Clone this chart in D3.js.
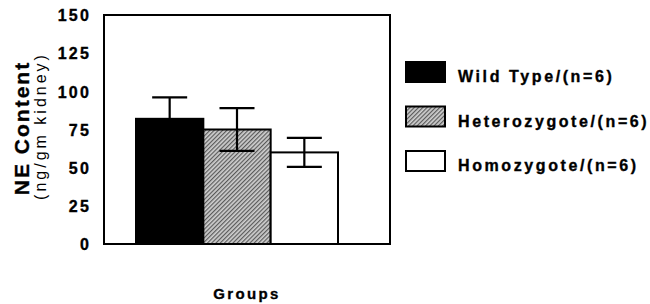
<!DOCTYPE html>
<html>
<head>
<meta charset="utf-8">
<script src="https://cdn.jsdelivr.net/npm/d3@7"></script>
<style>
body { margin: 0; background: #fff; }
svg { display: block; font-family: "Liberation Sans", Arial, sans-serif; }
.heavy { stroke: #000; stroke-width: 0.35px; }
</style>
</head>
<body>
<svg width="650" height="304"></svg>
<script>
var groups = ['Wild Type/(n=6)', 'Heterozygote/(n=6)', 'Homozygote/(n=6)'];
var means = [82, 75, 60];
var errors = [14, 14, 9.5];
var yTicks = [0, 25, 50, 75, 100, 125, 150];

var svg = d3.select('svg');

var defs = svg.append('defs');
var pat = defs.append('pattern')
    .attr('id', 'hatch')
    .attr('patternUnits', 'userSpaceOnUse')
    .attr('width', 3)
    .attr('height', 3)
    .attr('patternTransform', 'rotate(45)');
pat.append('rect').attr('width', 3).attr('height', 3).attr('fill', '#cfcfcf');
pat.append('rect').attr('width', 1.2).attr('height', 3).attr('fill', '#5a5a5a');

var fills = ['#000', 'url(#hatch)', '#fff'];

var plotLeft = 104, plotRight = 390, plotTop = 15, plotBottom = 244;

var yScale = d3.scaleLinear()
    .domain([0, 150])
    .range([plotBottom, plotTop]);

var xScale = d3.scaleBand()
    .domain(groups)
    .range([136, 338])
    .paddingInner(0);

// y axis labels
var yAxis = svg.append('g')
    .attr('transform', 'translate(' + plotLeft + ',0)')
    .call(d3.axisLeft(yScale).tickValues(yTicks).tickSize(0).tickPadding(13));
yAxis.select('.domain').remove();
yAxis.selectAll('text')
    .attr('class', 'heavy')
    .attr('font-family', '"Liberation Sans", Arial, sans-serif')
    .attr('font-weight', 'bold')
    .attr('font-size', 16)
    .attr('letter-spacing', 2.2)
    .attr('dy', '0.36em')
    .attr('fill', '#000');

// bars
svg.append('g')
    .selectAll('rect')
    .data(groups)
    .enter()
    .append('rect')
    .attr('x', function(d) { return xScale(d); })
    .attr('y', function(d, i) { return yScale(means[i]); })
    .attr('width', xScale.bandwidth())
    .attr('height', function(d, i) { return yScale(0) - yScale(means[i]); })
    .attr('fill', function(d, i) { return fills[i]; })
    .attr('stroke', '#000')
    .attr('stroke-width', 2);

// error bars
var capW = 35;
var err = svg.append('g')
    .selectAll('g')
    .data(groups)
    .enter()
    .append('g')
    .attr('stroke', '#000')
    .attr('stroke-width', 2.2);
err.append('line')
    .attr('x1', function(d) { return xScale(d) + xScale.bandwidth() / 2; })
    .attr('x2', function(d) { return xScale(d) + xScale.bandwidth() / 2; })
    .attr('y1', function(d, i) { return yScale(means[i] - errors[i]); })
    .attr('y2', function(d, i) { return yScale(means[i] + errors[i]); });
err.append('line')
    .attr('x1', function(d) { return xScale(d) + xScale.bandwidth() / 2 - capW / 2; })
    .attr('x2', function(d) { return xScale(d) + xScale.bandwidth() / 2 + capW / 2; })
    .attr('y1', function(d, i) { return yScale(means[i] + errors[i]); })
    .attr('y2', function(d, i) { return yScale(means[i] + errors[i]); });
err.append('line')
    .attr('x1', function(d) { return xScale(d) + xScale.bandwidth() / 2 - capW / 2; })
    .attr('x2', function(d) { return xScale(d) + xScale.bandwidth() / 2 + capW / 2; })
    .attr('y1', function(d, i) { return yScale(means[i] - errors[i]); })
    .attr('y2', function(d, i) { return yScale(means[i] - errors[i]); });

// frame
svg.append('rect')
    .attr('x', plotLeft)
    .attr('y', plotTop)
    .attr('width', plotRight - plotLeft)
    .attr('height', plotBottom - plotTop)
    .attr('fill', 'none')
    .attr('stroke', '#000')
    .attr('stroke-width', 2);

// axis titles
svg.append('text')
    .attr('class', 'heavy')
    .attr('transform', 'translate(29,128) rotate(-90)')
    .attr('text-anchor', 'middle')
    .attr('font-weight', 'bold')
    .attr('font-size', 21)
    .attr('letter-spacing', 2)
    .text('NE Content');
svg.append('text')
    .attr('transform', 'translate(46,126) rotate(-90)')
    .attr('text-anchor', 'middle')
    .attr('font-size', 16)
    .attr('letter-spacing', 3)
    .text('(ng/gm kidney)');
svg.append('text')
    .attr('class', 'heavy')
    .attr('x', 247)
    .attr('y', 299)
    .attr('text-anchor', 'middle')
    .attr('font-weight', 'bold')
    .attr('font-size', 15)
    .attr('letter-spacing', 2.4)
    .text('Groups');

// legend
var legend = svg.append('g')
    .selectAll('g')
    .data(groups)
    .enter()
    .append('g')
    .attr('transform', function(d, i) { return 'translate(406,' + (62 + i * 44.5) + ')'; });
legend.append('rect')
    .attr('width', 39)
    .attr('height', 20)
    .attr('fill', function(d, i) { return fills[i]; })
    .attr('stroke', '#000')
    .attr('stroke-width', 2);
legend.append('text')
    .attr('class', 'heavy')
    .attr('x', 52)
    .attr('y', 20)
    .attr('font-weight', 'bold')
    .attr('font-size', 16)
    .attr('letter-spacing', 2.6)
    .text(function(d) { return d; });
</script>
</body>
</html>
